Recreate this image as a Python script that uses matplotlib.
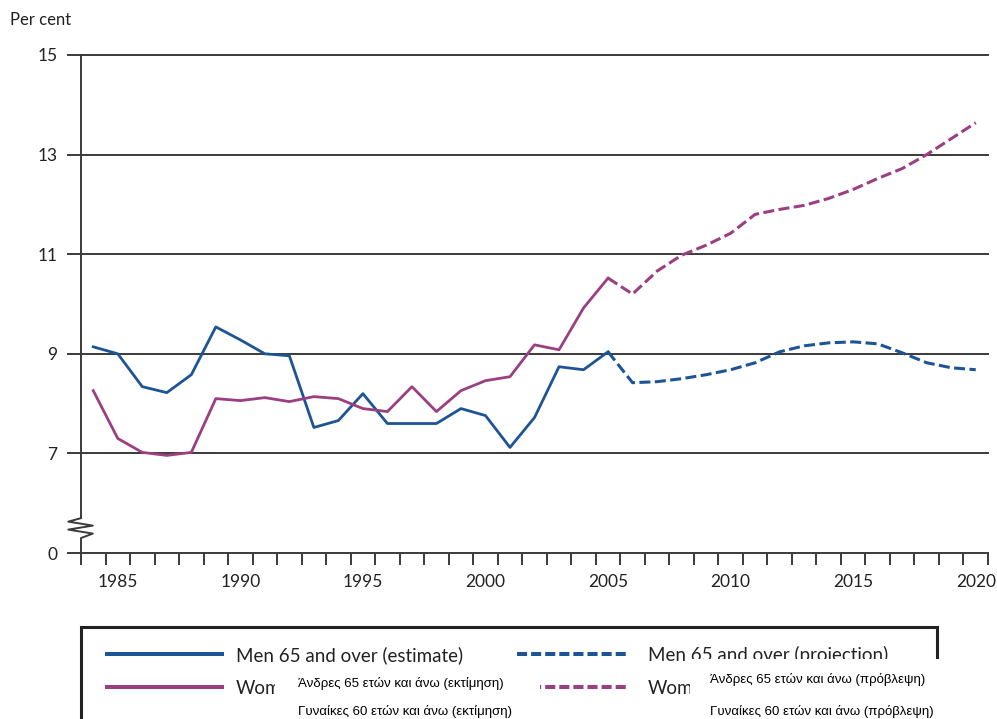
import matplotlib
matplotlib.use("Agg")
import matplotlib.pyplot as plt
from matplotlib.lines import Line2D
from matplotlib.patches import Rectangle

# dados
years_est = list(range(1984, 2006))
men_est = [9.14, 9.0, 8.34, 8.22, 8.58, 9.54, 9.28, 9.0, 8.96, 7.52, 7.66,
           8.2, 7.6, 7.6, 7.6, 7.9, 7.76, 7.12, 7.72, 8.74, 8.68, 9.04]
women_est = [8.26, 7.3, 7.02, 6.96, 7.02, 8.1, 8.06, 8.12, 8.04, 8.14, 8.1,
             7.9, 7.84, 8.34, 7.84, 8.26, 8.46, 8.54, 9.18, 9.08, 9.92, 10.52]

years_proj = list(range(2006, 2021))
men_proj = [8.42, 8.44, 8.5, 8.58, 8.68, 8.82, 9.04, 9.16, 9.22, 9.24, 9.2,
            9.02, 8.82, 8.72, 8.68]
women_proj = [10.2, 10.66, 10.98, 11.18, 11.42, 11.8, 11.9, 11.98, 12.12,
              12.3, 12.52, 12.72, 13.0, 13.32, 13.64]

y_ticks = [5, 7, 9, 11, 13, 15]
y_labels = ["0", "7", "9", "11", "13", "15"]
x_ticks = [1985, 1990, 1995, 2000, 2005, 2010, 2015, 2020]

legend_en = ["Men 65 and over (estimate)", "Men 65 and over (projection)",
             "Wom", "Wom"]
legend_gr = ["Άνδρες 65 ετών και άνω (εκτίμηση)",
             "Γυναίκες 60 ετών και άνω (εκτίμηση)",
             "Άνδρες 65 ετών και άνω (πρόβλεψη)",
             "Γυναίκες 60 ετών και άνω (πρόβλεψη)"]

BLUE = "#1c5496"
PINK = "#9a3f80"
GRID = "#3a3a3a"
TXT = "#222222"

W, H = 997, 719
fx = lambda px: px / W
fy = lambda py: 1 - py / H

plt.rcParams['font.family'] = ['Lato', 'DejaVu Sans']

fig = plt.figure(figsize=(9.97, 7.19), dpi=100)
ax = fig.add_axes([fx(81), fy(553), fx(988) - fx(81), fy(55) - fy(553)])

ax.set_xlim(1983.5, 2020.5)
ax.set_ylim(5, 15)

# linhas de grade
for v in y_ticks[1:]:
    ax.axhline(v, color=GRID, lw=1.4, clip_on=False, zorder=1)

dash = (3.6, 1.45)
ax.plot(years_est, men_est, color=BLUE, lw=2.0, zorder=3)
ax.plot(years_est, women_est, color=PINK, lw=2.0, zorder=3)
ax.plot([years_est[-1]] + years_proj, [men_est[-1]] + men_proj, color=BLUE,
        lw=2.2, dashes=dash, zorder=3)
ax.plot([years_est[-1]] + years_proj, [women_est[-1]] + women_proj, color=PINK,
        lw=2.2, dashes=dash, zorder=3)

# eixos
for s in ["top", "right", "left"]:
    ax.spines[s].set_visible(False)
ax.spines["bottom"].set_color(GRID)
ax.spines["bottom"].set_linewidth(1.4)

# eixo y com quebra
tr = ax.get_yaxis_transform()
ax.plot([0, 0], [15, 5.70], color=GRID, lw=1.4, transform=tr, clip_on=False)
ax.plot([0, -0.014, 0.013, -0.014, 0.013, 0, 0],
        [5.70, 5.63, 5.55, 5.47, 5.39, 5.30, 5.0],
        color=GRID, lw=1.4, transform=tr, clip_on=False)

ax.set_yticks(y_ticks)
ax.set_yticklabels(y_labels)
ax.tick_params(axis="y", length=10, width=1.4, color=GRID, pad=7,
               labelsize=12.5, labelcolor=TXT)

ax.set_xticks(x_ticks)
ax.set_xticks([y + 0.5 for y in range(1983, 2021)], minor=True)
ax.tick_params(axis="x", which="major", length=0, pad=15, labelsize=12.5,
               labelcolor=TXT)
ax.tick_params(axis="x", which="minor", length=8.6, width=1.4, color=GRID)

fig.text(fx(10), fy(20), "Per cent", fontsize=12, color=TXT, va="center")

# caixa da legenda
fig.patches.append(Rectangle((fx(81), fy(725)), fx(937) - fx(81), fy(627) - fy(725),
                             transform=fig.transFigure, fill=False,
                             edgecolor="#222222", lw=2.2))

def leg_line(x0, x1, y, color, dashed):
    kw = dict(dashes=(2.5, 1.0)) if dashed else {}
    fig.lines.append(Line2D([fx(x0), fx(x1)], [fy(y), fy(y)], color=color,
                            lw=2.9, transform=fig.transFigure, **kw))

leg_line(107, 222, 654, BLUE, False)
leg_line(517, 628, 654, BLUE, True)
leg_line(107, 222, 687, PINK, False)
leg_line(517, 628, 687, PINK, True)

fig.text(fx(236), fy(655), legend_en[0], fontsize=13.5, color=TXT, va="center")
fig.text(fx(648), fy(655), legend_en[1], fontsize=13.5, color=TXT, va="center")
fig.text(fx(236), fy(688), legend_en[2], fontsize=13.5, color=TXT, va="center")
fig.text(fx(648), fy(688), legend_en[3], fontsize=13.5, color=TXT, va="center")

# caixas brancas com o texto grego
fig.patches.append(Rectangle((fx(275), fy(725)), fx(540) - fx(275), fy(667) - fy(725),
                             transform=fig.transFigure, facecolor="white",
                             edgecolor="none", zorder=5))
fig.patches.append(Rectangle((fx(690), fy(725)), fx(1000) - fx(690), fy(659) - fy(725),
                             transform=fig.transFigure, facecolor="white",
                             edgecolor="none", zorder=5))

gr_font = ["Liberation Sans", "DejaVu Sans"]
fig.text(fx(298), fy(683), legend_gr[0], fontsize=9.5, family=gr_font,
         va="center", zorder=6)
fig.text(fx(298), fy(712), legend_gr[1], fontsize=9.5, family=gr_font,
         va="center", zorder=6)
fig.text(fx(710), fy(680), legend_gr[2], fontsize=9.5, family=gr_font,
         va="center", zorder=6)
fig.text(fx(710), fy(711), legend_gr[3], fontsize=9.5, family=gr_font,
         va="center", zorder=6)

fig.savefig("out.png", dpi=100)
